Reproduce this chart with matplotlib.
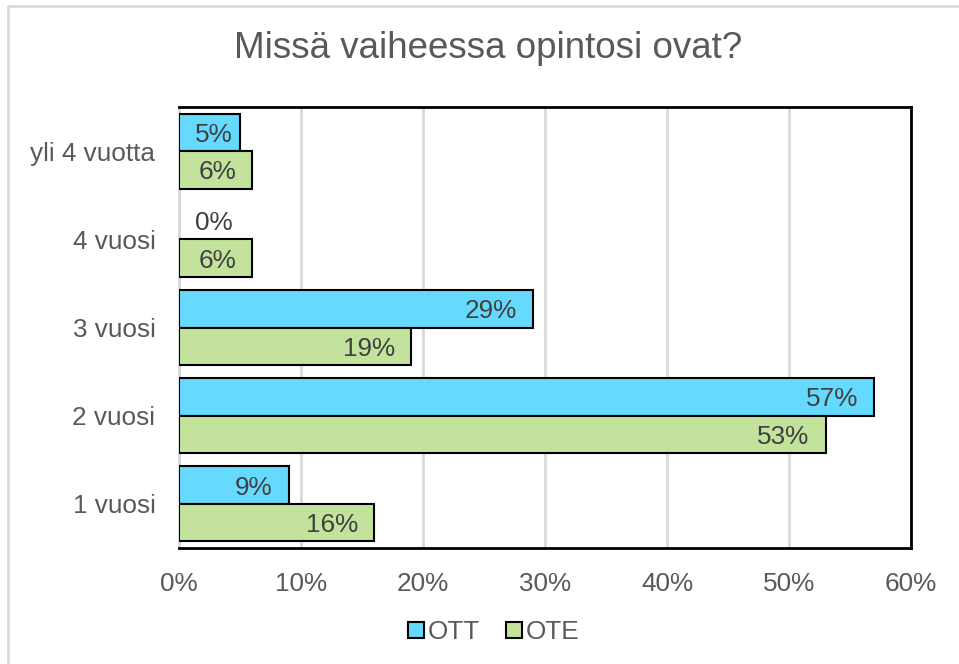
import matplotlib
matplotlib.use("Agg")
import matplotlib.pyplot as plt
from matplotlib.lines import Line2D
from matplotlib.patches import Patch
import numpy as np

categories = ['1 vuosi', '2 vuosi', '3 vuosi', '4 vuosi', 'yli 4 vuotta']
ott = [9, 57, 29, 0, 5]
ote = [16, 53, 19, 6, 6]
series_names = ['OTT', 'OTE']
x_ticks = [0, 10, 20, 30, 40, 50, 60]
title = 'Missä vaiheessa opintosi ovat?'

plt.rcParams['font.family'] = ['Liberation Sans', 'DejaVu Sans']
TXT = '#595959'
LBL = '#404040'
c_ott = '#66D9FF'
c_ote = '#C3E39C'

fig = plt.figure(figsize=(9.59, 6.64), dpi=100)
ax = fig.add_axes([179/959, 1-548/664, (911-179)/959, (548-107)/664])

y = np.arange(len(categories))
h = 0.425
b1 = ax.barh(y + h/2, ott, height=h, color=c_ott, edgecolor='black', linewidth=1.5, zorder=3)
b2 = ax.barh(y - h/2, ote, height=h, color=c_ote, edgecolor='black', linewidth=1.5, zorder=3)
for bars, vals in [(b1, ott), (b2, ote)]:
    for bar, v in zip(bars, vals):
        if v == 0:
            bar.set_linewidth(0)

ax.set_xlim(0, 60)
ax.set_ylim(-0.5, len(categories) - 0.5)
ax.set_xticks(x_ticks)
ax.set_xticklabels([f'{t}%' for t in x_ticks])
ax.set_yticks(y)
ax.set_yticklabels(categories)
ax.tick_params(axis='both', length=0, labelsize=18.8, colors=TXT)
ax.tick_params(axis='y', pad=17)
ax.tick_params(axis='x', pad=17)
ax.grid(axis='x', color='#D9D9D9', linewidth=2, zorder=0)
for s in ['top', 'right', 'bottom']:
    ax.spines[s].set_color('black')
    ax.spines[s].set_linewidth(2)
ax.spines['left'].set_color('#D9D9D9')
ax.spines['left'].set_linewidth(2)

pad = 16 / 732 * 60
min_right = (233 - 179) / 732 * 60
for vals, off in [(ott, h/2), (ote, -h/2)]:
    for yi, v in zip(y, vals):
        xr = max(v - pad, min_right)
        ax.text(xr, yi + off, f'{v}%', ha='right', va='center_baseline',
                fontsize=18.8, color=LBL, zorder=4)

fig.text(488/959, 1-48/664, title, ha='center', va='center', fontsize=26.5, color=TXT)

handles = [Patch(facecolor=c_ott, edgecolor='black', linewidth=1.5),
           Patch(facecolor=c_ote, edgecolor='black', linewidth=1.5)]
fig.legend(handles, series_names, loc='center', bbox_to_anchor=(494/959, 1-632/664),
           ncol=2, frameon=False, fontsize=18.8, labelcolor=TXT,
           handlelength=0.6, handleheight=0.6, handletextpad=0.15, columnspacing=1.0)

fig.add_artist(Line2D([8/959, 8/959, 1.0], [0, 1-6/664, 1-6/664],
                      transform=fig.transFigure, color='#D9D9D9', linewidth=2))

fig.savefig('out.png', dpi=100, facecolor='white')
